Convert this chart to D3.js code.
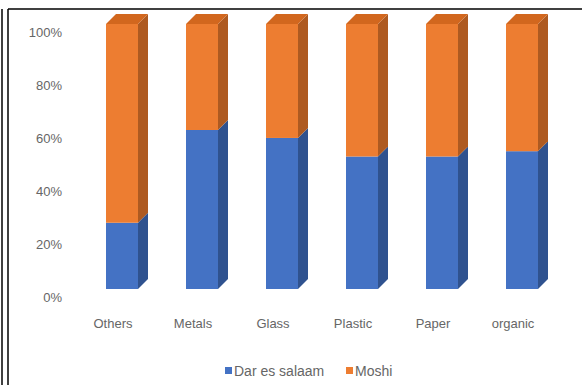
<!DOCTYPE html>
<html>
<head>
<meta charset="utf-8">
<script src="https://cdn.jsdelivr.net/npm/d3@7"></script>
<style>
  html, body { margin: 0; padding: 0; background: #fff; }
  svg { display: block; }
  text { font-family: "Liberation Sans Narrow", "Liberation Sans", Arial, sans-serif; }
</style>
</head>
<body>
<svg id="chart" width="582" height="385"></svg>
<script>
const categories = ["Others", "Metals", "Glass", "Plastic", "Paper", "organic"];
const darEsSalaam = [0.25, 0.60, 0.57, 0.50, 0.50, 0.52];
const moshi = [0.75, 0.40, 0.43, 0.50, 0.50, 0.48];
const seriesNames = ["Dar es salaam", "Moshi"];
const yTicks = [0, 0.2, 0.4, 0.6, 0.8, 1.0];

const colors = {
  front: ["#4472C4", "#ED7D31"],
  side: ["#2F528F", "#AE5A21"],
  top: ["#5B86D4", "#D2671E"]
};

const svg = d3.select("#chart");
const W = 582, H = 385;

// frame lines
svg.append("line").attr("x1", 2).attr("y1", 9).attr("x2", 2).attr("y2", H)
  .attr("stroke", "#000").attr("stroke-width", 1.5);
svg.append("line").attr("x1", 8).attr("y1", 9).attr("x2", 8).attr("y2", H)
  .attr("stroke", "#000").attr("stroke-width", 1.5);
svg.append("line").attr("x1", 8).attr("y1", 9).attr("x2", W).attr("y2", 9)
  .attr("stroke", "#000").attr("stroke-width", 1.5);

const x = d3.scaleBand().domain(categories).range([82, 562])
  .paddingInner(0.6).paddingOuter(0.3);
const y = d3.scaleLinear().domain([0, 1]).range([289, 24]);
const depthX = 10, depthY = 10;

const stacked = d3.stack().keys([0, 1])(categories.map((c, i) => ({ cat: c, 0: darEsSalaam[i], 1: moshi[i] })));

const g = svg.append("g");
categories.forEach((c, i) => {
  const x0 = x(c), bw = x.bandwidth();
  stacked.forEach((layer, k) => {
    const d = layer[i];
    const yb = y(d[0]), yt = y(d[1]);
    g.append("rect").attr("x", x0).attr("y", yt).attr("width", bw).attr("height", yb - yt)
      .attr("fill", colors.front[k]);
    g.append("path").attr("d", `M${x0 + bw},${yb} L${x0 + bw + depthX},${yb - depthY} L${x0 + bw + depthX},${yt - depthY} L${x0 + bw},${yt} Z`)
      .attr("fill", colors.side[k]);
    if (k === stacked.length - 1) {
      g.append("path").attr("d", `M${x0},${yt} L${x0 + depthX},${yt - depthY} L${x0 + bw + depthX},${yt - depthY} L${x0 + bw},${yt} Z`)
        .attr("fill", colors.top[k]);
    }
  });
});

// y axis labels
const yAxis = d3.axisLeft(y).tickValues(yTicks).tickFormat(d3.format(".0%")).tickSize(0).tickPadding(0);
const ya = svg.append("g").attr("transform", "translate(62,8)").call(yAxis);
ya.select(".domain").remove();
ya.selectAll("text").attr("fill", "#666666").attr("font-size", 13)
  .style("font-family", "'Liberation Sans Narrow', 'Liberation Sans', Arial, sans-serif");

// x axis labels
const xAxis = d3.axisBottom(x).tickSize(0).tickPadding(0);
const xa = svg.append("g").attr("transform", `translate(-9,319)`).call(xAxis);
xa.select(".domain").remove();
xa.selectAll("text").attr("fill", "#666666").attr("font-size", 13)
  .style("font-family", "'Liberation Sans Narrow', 'Liberation Sans', Arial, sans-serif");

// legend
const legendX = [225, 346];
const legend = svg.append("g");
seriesNames.forEach((name, k) => {
  legend.append("rect").attr("x", legendX[k]).attr("y", 367).attr("width", 7).attr("height", 7)
    .attr("fill", colors.front[k]);
  legend.append("text").attr("x", legendX[k] + 9).attr("y", 375.5)
    .attr("fill", "#666666").attr("font-size", 14).text(name);
});
</script>
</body>
</html>
